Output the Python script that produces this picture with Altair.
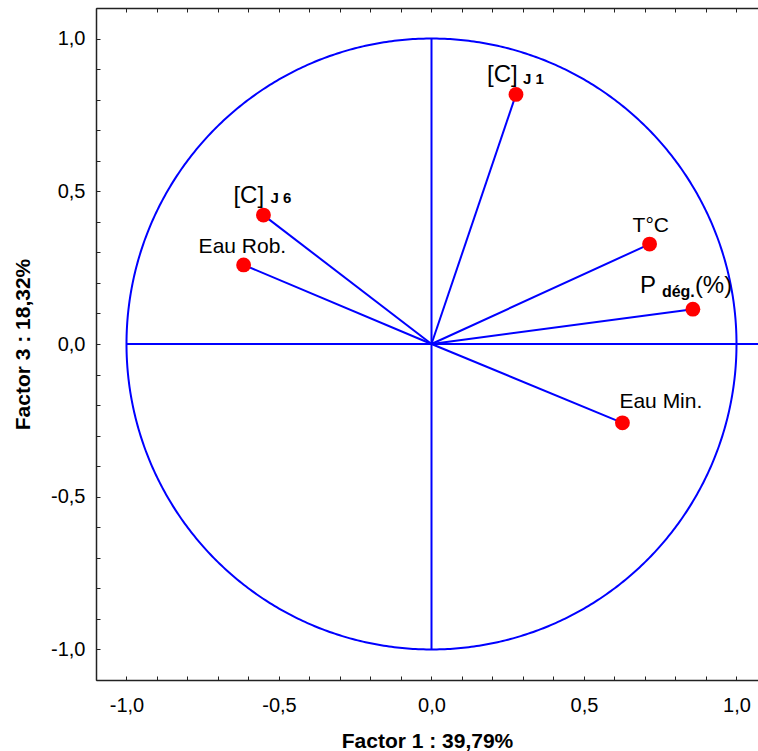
import altair as alt
import numpy as np
import pandas as pd

# Correlations of the variables with factors 1 and 3
variables = ["[C] J1", "[C] J6", "Eau Rob.", "T°C", "P dég.(%)", "Eau Min."]
factor1 = [0.277, -0.551, -0.616, 0.715, 0.857, 0.626]
factor3 = [0.817, 0.422, 0.259, 0.327, 0.114, -0.258]

axis_labels = [-1.0, -0.5, 0.0, 0.5, 1.0]
x_ticks = [round(-1.1 + 0.1 * i, 1) for i in range(22)]
y_ticks = [round(-1.1 + 0.1 * i, 1) for i in range(23)]

X_DOMAIN = [-1.1, 1.0705]
Y_DOMAIN = [-1.1, 1.1]
W, H = 662, 672
BLUE = "#0000FF"
FONT = "Liberation Sans"
AXIS_COLOR = "#222222"

df = pd.DataFrame({"var": variables, "f1": factor1, "f3": factor3})
df["o1"] = 0.0
df["o3"] = 0.0

# unit correlation circle
theta = np.linspace(0, 2 * np.pi, 721)
circle = pd.DataFrame({"cx": np.cos(theta), "cy": np.sin(theta), "k": np.arange(len(theta))})

xs = alt.Scale(domain=X_DOMAIN, nice=False, zero=False)
ys = alt.Scale(domain=Y_DOMAIN, nice=False, zero=False)

comma_expr = "(datum.value < 0 ? '-' : '') + replace(format(abs(datum.value), '.1f'), '.', ',')"

x_main = alt.Axis(values=axis_labels, labelExpr=comma_expr, ticks=False, grid=False,
                  domainColor=AXIS_COLOR, domainWidth=1.5, labelFont=FONT, labelFontSize=20,
                  labelColor="black", labelPadding=15, title="Factor 1 : 39,79%",
                  titleFont=FONT, titleFontSize=21, titleFontWeight="bold", titleColor="black",
                  titlePadding=15)
y_main = alt.Axis(values=axis_labels, labelExpr=comma_expr, ticks=False, grid=False,
                  domainColor=AXIS_COLOR, domainWidth=1.5, labelFont=FONT, labelFontSize=20,
                  labelColor="black", labelPadding=11, title="Factor 3 : 18,32%",
                  titleFont=FONT, titleFontSize=21, titleFontWeight="bold", titleColor="black",
                  titlePadding=17)

# inward tick marks along the bottom, top and left edges
x_ticks_bottom = alt.Axis(orient="top", offset=-H, values=x_ticks, labels=False, domain=False,
                          grid=False, ticks=True, tickSize=4, tickColor=AXIS_COLOR, title=None)
x_ticks_top = alt.Axis(orient="bottom", offset=-H, values=x_ticks, labels=False, domain=True,
                       domainColor=AXIS_COLOR, domainWidth=1.5, grid=False, ticks=True,
                       tickSize=4, tickColor=AXIS_COLOR, title=None)
y_ticks_left = alt.Axis(orient="right", offset=-W, values=y_ticks, labels=False, domain=False,
                        grid=False, ticks=True, tickSize=4, tickColor=AXIS_COLOR, title=None)

circle_layer = alt.Chart(circle).mark_line(color=BLUE, strokeWidth=2).encode(
    x=alt.X("cx:Q", scale=xs, axis=x_main),
    y=alt.Y("cy:Q", scale=ys, axis=y_main),
    order="k:Q",
)

hline = alt.Chart(pd.DataFrame({"a": [-1.0], "b": [X_DOMAIN[1]], "c": [0.0]})).mark_rule(
    color=BLUE, strokeWidth=2
).encode(
    x=alt.X("a:Q", scale=xs, axis=x_ticks_bottom),
    x2="b:Q",
    y=alt.Y("c:Q", scale=ys, axis=y_ticks_left),
)

vline = alt.Chart(pd.DataFrame({"a": [0.0], "b": [-1.0], "c": [1.0]})).mark_rule(
    color=BLUE, strokeWidth=2
).encode(
    x=alt.X("a:Q", scale=xs, axis=x_ticks_top),
    y=alt.Y("b:Q", scale=ys, axis=None),
    y2="c:Q",
)

vectors = alt.Chart(df).mark_rule(color=BLUE, strokeWidth=2).encode(
    x=alt.X("o1:Q", scale=xs, axis=None),
    y=alt.Y("o3:Q", scale=ys, axis=None),
    x2="f1:Q",
    y2="f3:Q",
)

points = alt.Chart(df).mark_point(filled=True, color="#FF0000", opacity=1, size=220).encode(
    x=alt.X("f1:Q", scale=xs, axis=None),
    y=alt.Y("f3:Q", scale=ys, axis=None),
)

# (variable, text piece, font size, weight, dx, dy)
label_parts = [
    ("[C] J1", "[C]", 24, "normal", -29, -12),
    ("[C] J1", "J 1", 15, "bold", 7, -10),
    ("[C] J6", "[C]", 24, "normal", -30, -12),
    ("[C] J6", "J 6", 15, "bold", 7, -12),
    ("Eau Rob.", "Eau Rob.", 21, "normal", -45, -12),
    ("T°C", "T°C", 21, "normal", -17, -12),
    ("P dég.(%)", "P", 24, "normal", -53, -16),
    ("P dég.(%)", "dég.", 16, "bold", -31, -12),
    ("P dég.(%)", "(%)", 24, "normal", 2, -16),
    ("Eau Min.", "Eau Min.", 21, "normal", -3, -15),
]

labels = []
for name, txt, size, weight, dx, dy in label_parts:
    labels.append(
        alt.Chart(df[df["var"] == name]).mark_text(
            text=txt, font=FONT, fontSize=size, fontWeight=weight, color="black",
            align="left", baseline="alphabetic", dx=dx, dy=dy,
        ).encode(
            x=alt.X("f1:Q", scale=xs, axis=None),
            y=alt.Y("f3:Q", scale=ys, axis=None),
        )
    )

chart = alt.layer(circle_layer, hline, vline, vectors, points, *labels).resolve_axis(
    x="independent", y="independent"
).properties(
    width=W, height=H,
    autosize=alt.AutoSizeParams(type="none"),
    padding={"left": 96, "top": 8, "right": 0, "bottom": 71},
    background="white",
).configure_view(stroke=None)

chart.save("out.html", embed_options={"renderer": "svg", "actions": False})
